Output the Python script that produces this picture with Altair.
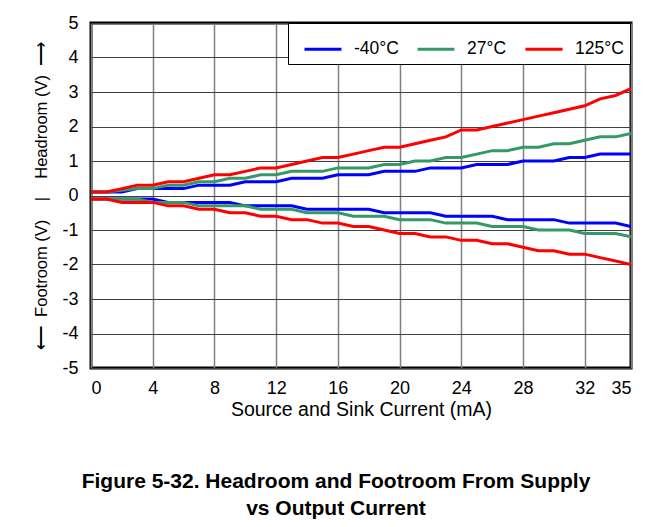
import altair as alt
import pandas as pd

current = list(range(0, 36))

head_m40 = [0.1, 0.1, 0.1, 0.2, 0.2, 0.2, 0.2, 0.3, 0.3, 0.3, 0.4, 0.4, 0.4, 0.5, 0.5, 0.5, 0.6, 0.6,
            0.6, 0.7, 0.7, 0.7, 0.8, 0.8, 0.8, 0.9, 0.9, 0.9, 1.0, 1.0, 1.0, 1.1, 1.1, 1.2, 1.2, 1.2]
head_27 = [0.1, 0.1, 0.15, 0.2, 0.2, 0.3, 0.3, 0.4, 0.4, 0.5, 0.5, 0.6, 0.6, 0.7, 0.7, 0.7, 0.8, 0.8,
           0.8, 0.9, 0.9, 1.0, 1.0, 1.1, 1.1, 1.2, 1.3, 1.3, 1.4, 1.4, 1.5, 1.5, 1.6, 1.7, 1.7, 1.8]
head_125 = [0.1, 0.1, 0.2, 0.3, 0.3, 0.4, 0.4, 0.5, 0.6, 0.6, 0.7, 0.8, 0.8, 0.9, 1.0, 1.1, 1.1, 1.2,
            1.3, 1.4, 1.4, 1.5, 1.6, 1.7, 1.9, 1.9, 2.0, 2.1, 2.2, 2.3, 2.4, 2.5, 2.6, 2.8, 2.9, 3.1]

foot_m40 = [-0.1, -0.1, -0.1, -0.1, -0.1, -0.2, -0.2, -0.2, -0.2, -0.2, -0.3, -0.3, -0.3, -0.3, -0.4, -0.4, -0.4, -0.4,
            -0.4, -0.5, -0.5, -0.5, -0.5, -0.6, -0.6, -0.6, -0.6, -0.7, -0.7, -0.7, -0.7, -0.8, -0.8, -0.8, -0.8, -0.9]
foot_27 = [-0.1, -0.1, -0.1, -0.1, -0.2, -0.2, -0.2, -0.3, -0.3, -0.3, -0.3, -0.4, -0.4, -0.4, -0.5, -0.5, -0.5, -0.6,
           -0.6, -0.6, -0.7, -0.7, -0.7, -0.8, -0.8, -0.8, -0.9, -0.9, -0.9, -1.0, -1.0, -1.0, -1.1, -1.1, -1.1, -1.2]
foot_125 = [-0.1, -0.1, -0.2, -0.2, -0.2, -0.3, -0.3, -0.4, -0.4, -0.5, -0.5, -0.6, -0.6, -0.7, -0.7, -0.8, -0.8, -0.9,
            -0.9, -1.0, -1.1, -1.1, -1.2, -1.2, -1.3, -1.3, -1.4, -1.4, -1.5, -1.6, -1.6, -1.7, -1.7, -1.8, -1.9, -2.0]

temps = ["-40°C", "27°C", "125°C"]
colors = ["#0000ff", "#339966", "#ff0000"]
x_ticks = [0, 4, 8, 12, 16, 20, 24, 28, 32, 35]
y_ticks = list(range(-5, 6))

NB = "\u00a0"
y_title = "⟵" + NB * 2 + "Footroom (V)" + NB * 4 + "|" + NB * 4 + "Headroom (V)" + NB * 2 + "⟶"
x_title = "Source and Sink Current (mA)"
fig_title = ["Figure 5-32. Headroom and Footroom From Supply", "vs Output Current"]

rows = []
for temp, head, foot in zip(temps, [head_m40, head_27, head_125], [foot_m40, foot_27, foot_125]):
    for c, v in zip(current, head):
        rows.append({"current": c, "value": v, "temp": temp, "branch": temp + " head"})
    for c, v in zip(current, foot):
        rows.append({"current": c, "value": v, "temp": temp, "branch": temp + " foot"})
df = pd.DataFrame(rows)

FONT = "Liberation Sans"

legend_label_expr = (
    "datum.label == '125°C' ? datum.label + '" + NB * 3 + "' : datum.label"
)

lines = alt.Chart(df).mark_line(strokeWidth=3, clip=True).encode(
    x=alt.X("current:Q", scale=alt.Scale(domain=[0, 35], nice=False),
            axis=alt.Axis(values=x_ticks, title=x_title, ticks=False,
                          labelFontSize=18, titleFontSize=19.5,
                          labelPadding=11, titlePadding=3, gridColor="#808080", gridWidth=1.5,
                          domain=False)),
    y=alt.Y("value:Q", scale=alt.Scale(domain=[-5, 5], nice=False),
            axis=alt.Axis(values=y_ticks, title=y_title, labelExpr="'' + datum.value",
                          labelFontSize=18, titleFontSize=16.5,
                          ticks=False, labelPadding=13, titlePadding=12, gridColor="#404040",
                          gridWidth=1, domain=False)),
    color=alt.Color("temp:N", scale=alt.Scale(domain=temps, range=colors),
                    sort=temps,
                    legend=alt.Legend(title=None, orient="none", legendX=197, legendY=0,
                                      direction="horizontal",
                                      symbolType="stroke", symbolSize=1369, symbolOffset=9,
                                      symbolStrokeWidth=3, strokeColor="black", fillColor="white",
                                      padding=6, labelFontSize=17.5, columnPadding=8,
                                      labelExpr=legend_label_expr,
                                      labelOffset=11, labelFont=FONT, labelColor="black")),
    detail="branch:N",
)

title_df = pd.DataFrame({"line": fig_title, "row": [0, 1]})
title = alt.Chart(title_df).mark_text(
    font=FONT, fontSize=21, fontWeight="bold", color="black", align="center", baseline="middle"
).encode(
    text="line:N",
    x=alt.value(245),
    y=alt.Y("row:Q", scale=alt.Scale(domain=[0, 1], range=[459, 486]), axis=None),
)

chart = alt.layer(lines, title).resolve_scale(y="independent").properties(
    width=540, height=345,
    autosize=alt.AutoSizeParams(type="none"),
    padding={"left": 83, "top": 15, "right": 23, "bottom": 151},
).configure_view(stroke="black", strokeWidth=3).configure_axis(
    labelFont=FONT, titleFont=FONT,
    titleFontWeight="normal", labelColor="black", titleColor="black", gridOpacity=1,
)

chart.save("out.html", embed_options={"renderer": "svg", "actions": False})
